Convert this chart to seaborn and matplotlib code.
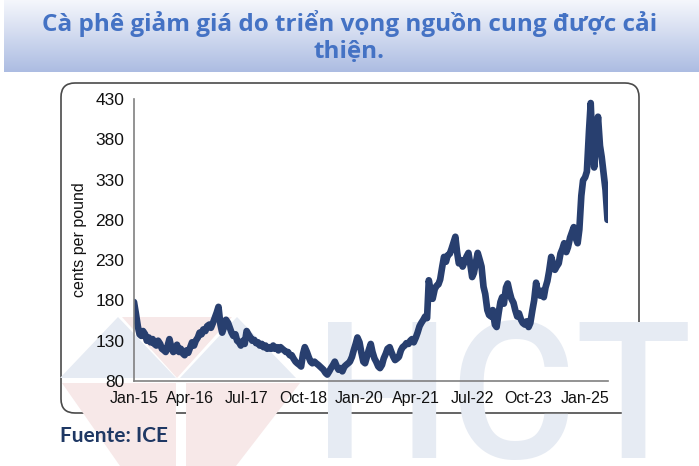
import numpy as np
import pandas as pd
import matplotlib
matplotlib.use("Agg")
import matplotlib.pyplot as plt
import matplotlib.dates as mdates
from matplotlib.patches import FancyBboxPatch, Polygon
import seaborn as sns

# semi-monthly coffee prices (cents per pound)
p2015 = [178, 165, 148, 138, 136, 142, 138, 130, 134, 128, 132, 126, 124, 130, 126, 120, 118, 116, 124, 132, 120, 116, 118, 125]
p2016 = [116, 120, 114, 112, 118, 115, 122, 128, 124, 130, 134, 140, 138, 144, 142, 148, 150, 146, 152, 158, 165, 172, 150, 140]
p2017 = [148, 156, 152, 146, 140, 136, 138, 130, 128, 124, 130, 126, 142, 138, 134, 130, 131, 127, 128, 124, 126, 122, 124, 120]
p2018 = [122, 120, 124, 120, 122, 118, 122, 120, 118, 116, 116, 112, 112, 108, 104, 102, 100, 98, 114, 122, 116, 110, 104, 102]
p2019 = [104, 102, 100, 98, 96, 94, 90, 88, 92, 96, 100, 104, 98, 94, 96, 92, 98, 100, 102, 104, 110, 118, 126, 134]
p2020 = [128, 116, 104, 102, 110, 118, 126, 116, 108, 104, 98, 96, 100, 108, 114, 120, 122, 116, 110, 106, 108, 110, 118, 122]
p2021 = [124, 127, 126, 130, 132, 128, 134, 140, 148, 152, 156, 160, 158, 205, 190, 182, 194, 198, 200, 206, 222, 234, 228, 236]
p2022 = [238, 244, 252, 259, 240, 226, 230, 222, 228, 234, 239, 226, 209, 214, 228, 239, 230, 222, 197, 188, 168, 162, 160, 168]
p2023 = [150, 147, 165, 178, 184, 176, 196, 201, 190, 182, 177, 168, 160, 164, 156, 152, 150, 154, 147, 152, 168, 180, 202, 190]
p2024 = [186, 192, 184, 196, 204, 216, 234, 226, 218, 222, 226, 238, 244, 251, 240, 246, 258, 264, 271, 258, 251, 268, 310, 329]
p2025 = [333, 340, 390, 425, 372, 345, 380, 408, 372, 358, 335, 317, 280]

prices = p2015 + p2016 + p2017 + p2018 + p2019 + p2020 + p2021 + p2022 + p2023 + p2024 + p2025
dates = pd.date_range("2015-01-01", periods=len(prices), freq="SMS")
df = pd.DataFrame({"date": dates, "price": prices})

tick_dates = pd.date_range("2015-01-01", "2025-01-01", freq="15MS")
y_ticks = [80, 130, 180, 230, 280, 330, 380, 430]

title = "Cà phê giảm giá do triển vọng nguồn cung được cải\nthiện."
source = "Fuente: ICE"

sns.set_style("white")
plt.rcParams["font.family"] = ["Liberation Sans Narrow", "Liberation Sans", "DejaVu Sans"]

W, H = 699, 466
fig = plt.figure(figsize=(W / 100, H / 100), dpi=100)

# title banner with vertical gradient
bax = fig.add_axes([4 / W, 1 - 72 / H, 1 - 4 / W, 72 / H])
bax.set_zorder(1)
grad = np.linspace(0, 1, 256)[:, None]
top_c = np.array([245, 247, 252]) / 255
bot_c = np.array([172, 188, 226]) / 255
img = top_c[None, None, :] * (1 - grad[..., None]) + bot_c[None, None, :] * grad[..., None]
img = np.repeat(img, 2, axis=1)
bax.imshow(img, aspect="auto", extent=[0, 1, 0, 1])
bax.axis("off")
fig.text(0.5, 1 - 37 / H, title, ha="center", va="center", fontsize=17.5,
         fontweight="bold", color="#4472c4", family=["Open Sans", "DejaVu Sans"],
         linespacing=1.2, zorder=5)

# chart frame
frame = FancyBboxPatch((0.61, 0.53), 5.78, 3.30, boxstyle="round,pad=0,rounding_size=0.14",
                       transform=fig.dpi_scale_trans, facecolor="white",
                       edgecolor="#4a4a4a", linewidth=1.2, zorder=0)
fig.patches.append(frame)

# watermark (logo triangles + letters)
def px(pts):
    return [(x / W, 1 - y / H) for x, y in pts]

wm_blue = "#e6ebf3"
wm_pink = "#f7e8e8"
for pts, c in [
    ([(118, 317), (60, 378), (176, 378)], wm_blue),
    ([(122, 317), (232, 317), (177, 378)], wm_pink),
    ([(237, 317), (180, 378), (296, 378)], wm_blue),
    ([(62, 383), (176, 383), (176, 466), (120, 466)], wm_pink),
    ([(186, 383), (300, 383), (236, 466), (186, 466)], wm_pink),
]:
    fig.patches.append(Polygon(px(pts), closed=True, transform=fig.transFigure,
                               facecolor=c, edgecolor="none", zorder=0.5))
fig.text(314 / W, 1 - 458 / H, "HCT", fontsize=138, fontweight="medium",
         color=wm_blue, family="Roboto", ha="left", va="baseline", zorder=0.6)

# main axes
ax = fig.add_axes([134 / W, 1 - 381 / H, (608 - 134) / W, (381 - 99) / H])
ax.set_zorder(3)
ax.patch.set_alpha(0)
sns.lineplot(data=df, x="date", y="price", ax=ax, color="#283f6f", linewidth=4.8)
ax.set_ylim(80, 430)
ax.set_xlim(pd.Timestamp("2015-01-01"), pd.Timestamp("2025-07-05"))
ax.set_yticks(y_ticks)
ax.set_xticks(tick_dates)
ax.xaxis.set_major_formatter(mdates.DateFormatter("%b-%y"))
ax.set_xlabel("")
ax.set_ylabel("cents per pound", fontsize=11.5, color="#111111", labelpad=6)
sns.despine(ax=ax)
for s in ["left", "bottom"]:
    ax.spines[s].set_color("#808080")
    ax.spines[s].set_linewidth(1.2)
ax.tick_params(axis="both", which="major", length=4, width=1.1, color="#808080",
               labelcolor="#111111", direction="out", pad=3)
ax.tick_params(axis="y", labelsize=12.5)
ax.tick_params(axis="x", labelsize=11.5)
ax.grid(False)

fig.text(60 / W, 1 - 436 / H, source, fontsize=15, fontweight="bold",
         color="#1f3864", family=["Lato", "DejaVu Sans"], ha="left", va="center", zorder=5)

fig.savefig("out.png", dpi=100)
